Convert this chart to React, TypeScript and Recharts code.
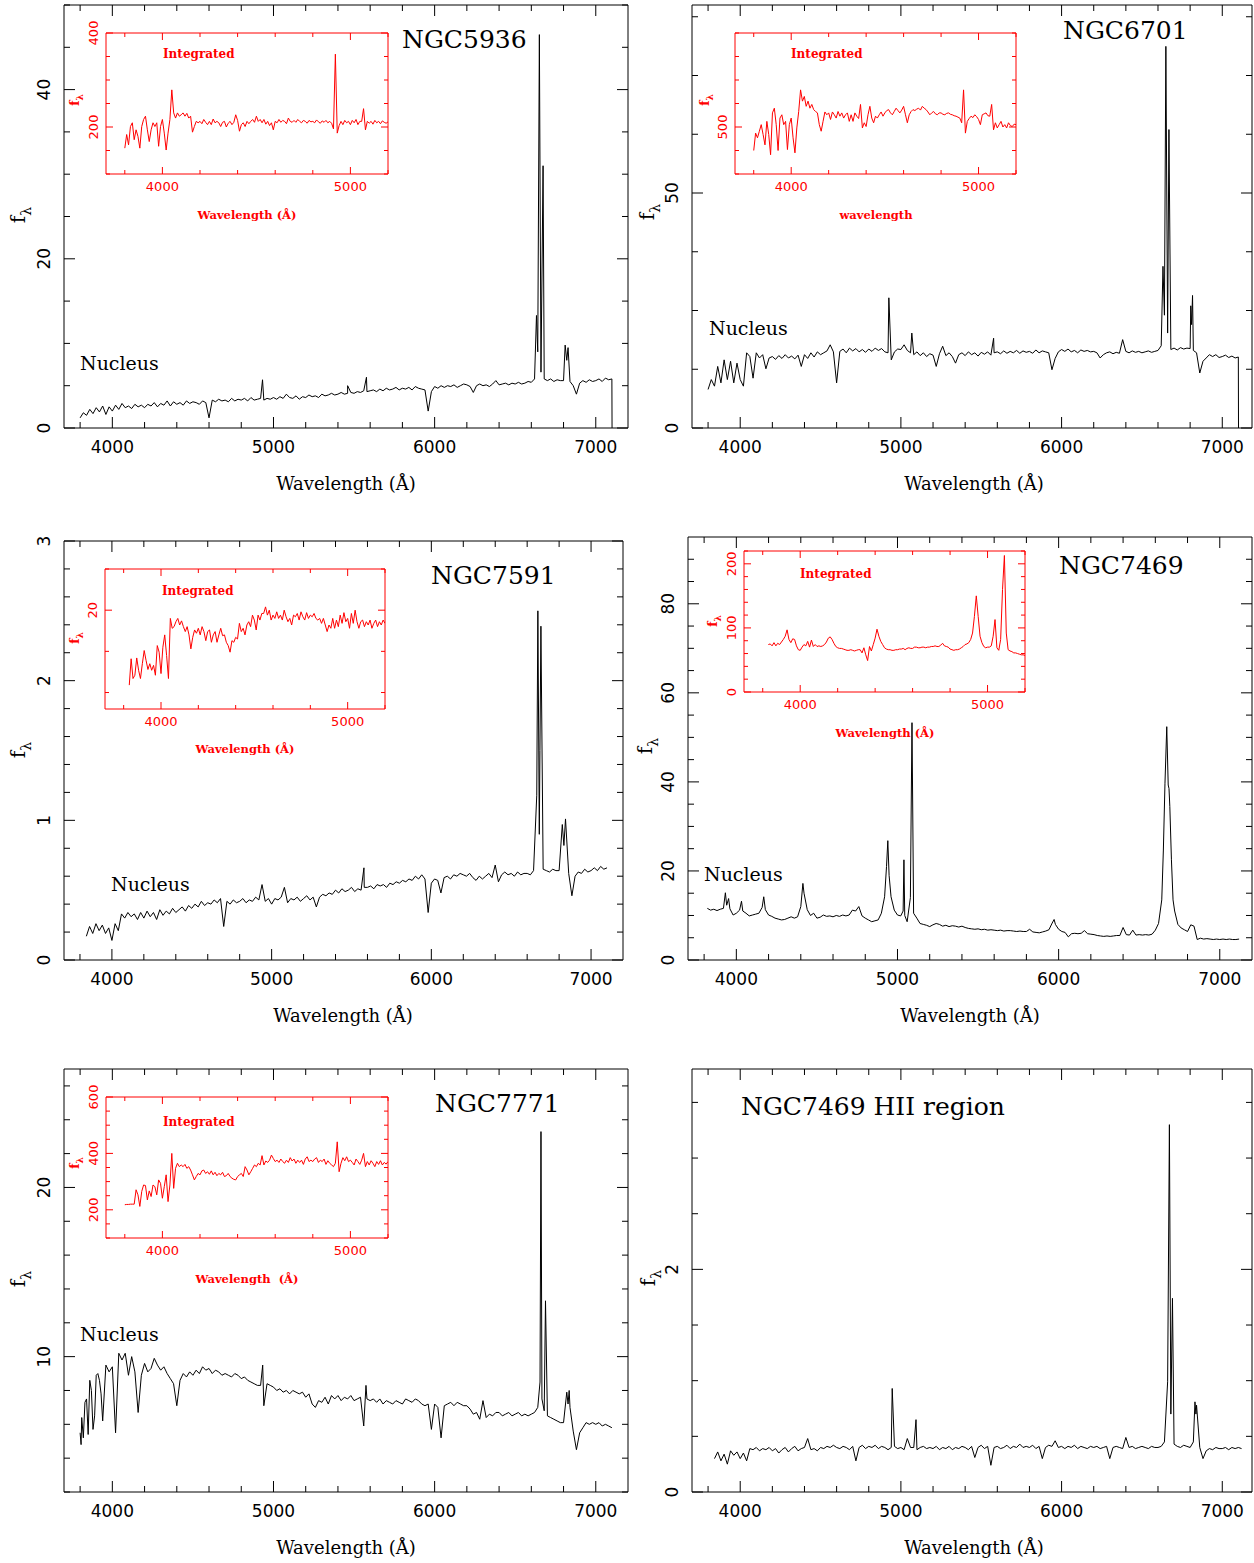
import React from 'react';
import { LineChart, Line, XAxis, YAxis } from 'recharts';

type Pair = [number, number];

// Nuclear spectra are sampled every 20 Å, the integrated ones every 10 Å.
// The *Lines lists hold extra [wavelength, flux] samples for narrow features.
const NUCLEUS_STEP = 20;
const INSET_STEP = 10;

// ---------- NGC5936 ----------
const ngc5936Start = 3800;
const ngc5936Flux = [
  1.2, 1.8, 1.5, 2.2, 1.7, 2.4, 1.9, 2.6, 1.6, 2.5,
  2.0, 2.7, 2.2, 2.9, 2.4, 2.6, 2.3, 2.8, 2.5, 2.7,
  2.4, 2.8, 2.6, 3.0, 2.5, 2.9, 2.7, 3.2, 2.6, 3.1,
  2.8, 3.0, 2.7, 3.2, 2.9, 3.1, 3.0, 2.8, 3.2, 3.0,
  1.2, 3.3, 3.1, 3.4, 3.2, 3.3, 3.1, 3.5, 3.2, 3.4,
  3.3, 3.5, 3.2, 3.6, 3.3, 3.4, 3.5, 3.3, 3.5, 3.4,
  3.6, 3.4, 3.7, 3.5, 4.0, 3.6, 3.5, 3.8, 3.4, 3.7,
  3.6, 3.9, 3.7, 3.8, 3.6, 4.0, 3.8, 3.9, 4.1, 3.9,
  4.0, 4.2, 4.0, 4.1, 4.2, 4.1, 4.3, 4.2, 4.4, 4.3,
  4.4, 4.5, 4.3, 4.6, 4.4, 4.7, 4.5, 4.6, 4.8, 4.5,
  4.7, 4.6, 4.8, 4.5, 4.9, 4.7, 4.6, 4.5, 2.0, 4.3,
  4.9, 4.7, 5.0, 4.8, 5.0, 4.9, 5.1, 4.8, 5.0, 5.2,
  5.1, 4.9, 4.2, 5.0, 5.2, 5.0, 5.1, 4.9, 5.2, 5.6,
  5.1, 5.2, 5.3, 5.1, 5.3, 5.2, 5.4, 5.2, 5.3, 5.5,
  5.4, 5.8, 9.0, 6.6, 5.8, 5.6, 5.8, 5.5, 5.7, 5.6,
  5.6, 8.0, 5.5, 5.0, 4.0, 5.3, 5.6, 5.4, 5.7, 5.5,
  5.6, 5.8, 5.5, 5.9, 5.7, 5.8,
];
const ngc5936Lines: Pair[] = [
  [4932, 5.7], [5460, 5.0], [5577, 6.0], [6632, 13.3], [6650, 46.5],
  [6673, 31.0], [6810, 9.8], [6828, 9.5], [7101, 0],
];
const ngc5936IntStart = 3800;
const ngc5936Integrated = [
  155, 184, 162, 201, 209, 173, 194, 180, 155, 201,
  216, 223, 194, 169, 194, 209, 201, 209, 159, 201,
  216, 187, 151, 187, 216, 279, 230, 219, 230, 223,
  226, 230, 223, 229, 219, 223, 189, 201, 212, 209,
  212, 207, 216, 210, 205, 212, 205, 217, 209, 212,
  209, 201, 210, 212, 200, 208, 212, 205, 210, 226,
  214, 191, 205, 209, 201, 212, 207, 212, 216, 210,
  223, 212, 216, 209, 216, 206, 212, 203, 209, 194,
  212, 209, 216, 210, 214, 212, 207, 219, 212, 210,
  214, 210, 216, 212, 209, 214, 212, 208, 214, 211,
  212, 209, 215, 211, 208, 213, 210, 214, 209, 212,
  208, 196, 355, 187, 203, 212, 205, 214, 209, 212,
  205, 214, 209, 216, 205, 212, 212, 239, 194, 212,
  208, 212, 206, 214, 209, 212, 207, 213, 210, 208,
  211,
];

// ---------- NGC6701 ----------
const ngc6701Start = 3800;
const ngc6701Flux = [
  8.2, 10.3, 8.9, 13.1, 9.6, 14.5, 10.3, 14.2, 9.6, 13.8,
  10.3, 8.9, 16.0, 15.2, 10.6, 16.0, 14.9, 15.6, 12.6, 14.9,
  15.2, 14.6, 15.4, 14.8, 15.6, 14.9, 15.3, 14.7, 15.5, 13.1,
  15.6, 14.8, 16.0, 15.1, 16.2, 15.6, 16.0, 16.4, 17.7, 16.2,
  9.6, 16.3, 16.8, 16.0, 17.0, 16.4, 16.9, 16.2, 16.7, 16.1,
  16.8, 16.3, 17.0, 16.5, 16.9, 16.2, 16.0, 14.5, 16.2, 16.8,
  16.7, 17.7, 16.5, 16.0, 15.6, 16.2, 15.4, 16.0, 15.2, 15.8,
  15.5, 13.1, 15.8, 17.4, 15.4, 16.0, 15.2, 13.8, 15.6, 16.0,
  15.4, 16.2, 15.6, 16.0, 15.3, 16.1, 15.7, 16.2, 15.5, 16.0,
  16.2, 15.8, 16.4, 15.9, 16.3, 16.0, 16.5, 15.9, 16.4, 16.1,
  16.3, 15.9, 16.6, 16.0, 16.4, 16.2, 16.0, 12.4, 14.8, 16.2,
  16.7, 16.3, 16.8, 16.2, 16.5, 16.0, 16.6, 16.3, 16.5, 16.2,
  16.3, 16.0, 14.9, 15.6, 16.0, 16.2, 15.8, 16.1, 15.9, 18.8,
  16.3, 16.0, 16.4, 16.1, 16.3, 16.0, 16.2, 16.4, 16.1, 16.3,
  16.5, 17.5, 24.0, 20.2, 16.7, 17.0, 16.6, 17.1, 16.8, 17.0,
  16.9, 16.5, 16.0, 11.7, 14.2, 14.9, 15.6, 15.2, 15.6, 15.0,
  15.2, 15.5, 15.0, 15.3, 14.9, 15.1,
];
const ngc6701Lines: Pair[] = [
  [4925, 27.7], [5068, 20.2], [5577, 19.1], [6631, 34.4], [6649, 81.2],
  [6668, 63.5], [6804, 26.0], [6809, 22.0], [6815, 28.2], [7101, 0],
];
const ngc6701IntStart = 3800;
const ngc6701Integrated = [
  450, 487, 477, 491, 505, 484, 462, 512, 484, 441,
  530, 540, 505, 450, 519, 526, 505, 512, 452, 505,
  519, 477, 445, 498, 533, 579, 555, 565, 544, 555,
  540, 548, 537, 533, 530, 505, 491, 512, 532, 526,
  530, 516, 532, 526, 519, 533, 523, 530, 519, 526,
  530, 512, 526, 512, 530, 523, 518, 548, 498, 509,
  501, 526, 544, 519, 509, 523, 519, 526, 532, 523,
  530, 535, 537, 530, 526, 533, 540, 535, 530, 536,
  544, 526, 509, 526, 533, 537, 535, 538, 540, 536,
  544, 540, 537, 532, 526, 530, 533, 528, 526, 530,
  530, 527, 526, 529, 530, 527, 526, 524, 523, 521,
  519, 509, 579, 487, 512, 518, 523, 520, 526, 522,
  516, 505, 526, 528, 530, 524, 523, 548, 494, 509,
  498, 505, 512, 500, 505, 498, 509, 503, 501, 506,
  505,
];

// ---------- NGC7591 ----------
const ngc7591Start = 3840;
const ngc7591Flux = [
  0.17, 0.24, 0.19, 0.26, 0.21, 0.25, 0.19, 0.23,
  0.14, 0.26, 0.21, 0.33, 0.30, 0.34, 0.31, 0.33, 0.29, 0.34,
  0.30, 0.35, 0.31, 0.34, 0.29, 0.36, 0.32, 0.35, 0.33, 0.37,
  0.34, 0.36, 0.38, 0.35, 0.39, 0.37, 0.40, 0.38, 0.42, 0.39,
  0.41, 0.40, 0.43, 0.41, 0.44, 0.24, 0.42, 0.40, 0.43, 0.41,
  0.42, 0.44, 0.41, 0.43, 0.42, 0.45, 0.43, 0.54, 0.42, 0.44,
  0.40, 0.44, 0.43, 0.45, 0.52, 0.41, 0.44, 0.43, 0.45, 0.42,
  0.44, 0.46, 0.43, 0.45, 0.38, 0.45, 0.47, 0.46, 0.48, 0.47,
  0.50, 0.48, 0.51, 0.49, 0.50, 0.52, 0.49, 0.51, 0.50, 0.52,
  0.52, 0.53, 0.51, 0.54, 0.53, 0.54, 0.52, 0.55, 0.54, 0.56,
  0.55, 0.57, 0.56, 0.58, 0.57, 0.60, 0.58, 0.61, 0.58, 0.34,
  0.55, 0.58, 0.57, 0.48, 0.59, 0.60, 0.58, 0.61, 0.60, 0.62,
  0.61, 0.60, 0.62, 0.59, 0.57, 0.60, 0.58, 0.60, 0.62, 0.59,
  0.68, 0.56, 0.61, 0.63, 0.61, 0.62, 0.60, 0.63, 0.61, 0.62,
  0.62, 0.61, 0.64, 1.18, 1.50, 0.65, 0.64, 0.63, 0.65, 0.64,
  0.64, 0.97, 1.01, 0.62, 0.46, 0.60, 0.63, 0.62, 0.65, 0.63,
  0.64, 0.66, 0.64, 0.67, 0.65, 0.66,
];
const ngc7591Lines: Pair[] = [
  [5578, 0.66], [6667, 2.5], [6676, 0.9], [6686, 2.39], [6830, 0.82],
];
const ngc7591IntStart = 3830;
const ngc7591Integrated = [
  10.9, 14.1, 11.7, 12.1, 14.2, 12.7, 11.7,
  13.5, 15.1, 13.9, 12.8, 13.5, 12.7, 13.3, 12.1, 15.7, 14.9,
  12.3, 15.5, 17.0, 14.5, 11.7, 19.0, 17.8, 18.0, 18.6, 19.0,
  18.2, 18.7, 18.0, 17.4, 18.0, 17.0, 15.3, 16.7, 17.6, 17.2,
  17.8, 17.0, 18.0, 17.4, 16.3, 17.4, 17.6, 16.1, 17.0, 17.4,
  16.1, 17.0, 17.8, 16.9, 17.0, 16.1, 15.7, 14.9, 16.3, 16.1,
  16.7, 16.5, 18.4, 17.4, 17.8, 17.0, 18.2, 18.6, 18.0, 19.4,
  18.8, 17.6, 19.4, 18.8, 19.6, 19.6, 20.4, 19.4, 20.0, 18.8,
  19.4, 19.0, 19.8, 19.0, 19.4, 18.8, 20.0, 19.2, 18.6, 19.0,
  18.2, 19.4, 19.2, 19.6, 18.8, 19.8, 19.2, 18.8, 19.7, 19.0,
  19.4, 19.2, 19.6, 19.0, 18.8, 19.0, 18.4, 19.0, 18.2, 17.4,
  18.2, 17.8, 19.0, 17.8, 18.8, 18.0, 19.4, 18.4, 19.7, 18.6,
  19.0, 17.8, 19.6, 18.4, 20.0, 18.6, 17.8, 18.6, 18.8, 18.0,
  18.6, 18.2, 18.8, 17.8, 18.4, 18.8, 18.0, 18.6, 18.2, 18.8,
  18.4,
];

// ---------- NGC7469 ----------
const ngc7469Start = 3820;
const ngc7469Flux = [
  11.6, 11.2, 11.4, 11.1, 11.4, 11.6, 12.3, 11.5, 10.1,
  10.5, 11.2, 11.0, 10.5, 9.9, 10.1, 10.3, 10.5, 11.8, 11.3,
  10.1, 9.8, 9.4, 9.2, 9.0, 9.1, 9.4, 9.7, 9.4, 9.7,
  12.0, 15.0, 11.3, 10.0, 10.5, 9.4, 9.6, 10.1, 9.8, 9.9,
  9.7, 10.0, 9.8, 10.1, 9.9, 10.1, 11.2, 11.0, 12.0, 9.9,
  9.4, 9.0, 8.6, 8.8, 9.0, 10.5, 14.2, 26.8, 14.2, 11.2,
  10.1, 9.9, 22.5, 8.6, 14.0, 10.5, 9.4, 8.2, 8.0, 7.8,
  7.5, 7.9, 8.2, 8.0, 7.6, 7.8, 7.5, 7.7, 7.6, 7.4,
  7.6, 7.3, 7.1, 7.0, 6.9, 7.0, 6.8, 6.9, 6.7, 6.8,
  6.7, 6.6, 6.7, 6.5, 6.6, 6.6, 6.5, 6.4, 6.5, 6.4,
  6.4, 6.9, 6.3, 6.2, 6.1, 6.3, 6.5, 6.8, 8.3, 8.0,
  6.9, 6.4, 6.2, 5.2, 5.9, 6.0, 5.9, 6.0, 6.6, 5.9,
  5.8, 5.7, 5.5, 5.4, 5.3, 5.4, 5.3, 5.4, 5.5, 5.5,
  7.3, 5.7, 5.6, 6.7, 5.6, 5.7, 5.6, 5.7, 5.6, 5.8,
  6.7, 8.2, 13.5, 39.7, 39.3, 22.5, 11.0, 8.0, 7.2, 6.8,
  6.4, 7.9, 7.6, 4.6, 4.9, 4.7, 4.8, 4.7, 4.6, 4.7,
  4.6, 4.7, 4.6, 4.7, 4.6, 4.6, 4.7,
];
const ngc7469Lines: Pair[] = [
  [3932, 15.1], [3952, 13.8], [4032, 13.2], [4170, 14.2], [4413, 17.2],
  [4932, 21.0], [4948, 19.0], [5035, 11.0], [5045, 10.0], [5090, 53.3],
  [5972, 9.1], [6650, 24.7], [6671, 52.4], [6685, 38.5], [6690, 34.5],
  [6710, 13.5],
];
const ngc7469IntStart = 3830;
const ngc7469Integrated = [
  74, 75, 72, 77, 72, 76, 74,
  78, 82, 87, 97, 82, 77, 83, 82, 72, 66,
  65, 70, 74, 72, 79, 70, 81, 71, 74, 71,
  72, 71, 72, 74, 78, 84, 86, 82, 76, 71,
  69, 68, 68, 67, 66, 65, 65, 66, 65, 64,
  65, 66, 66, 61, 69, 58, 49, 71, 64, 74,
  84, 98, 87, 79, 74, 69, 67, 66, 66, 65,
  65, 66, 66, 67, 67, 68, 66, 68, 69, 68,
  68, 70, 70, 69, 69, 70, 70, 69, 70, 70,
  71, 71, 72, 71, 71, 73, 76, 72, 71, 70,
  67, 66, 65, 66, 66, 67, 69, 71, 74, 75,
  77, 82, 92, 118, 150, 118, 87, 77, 71, 69,
  70, 70, 72, 87, 113, 69, 65, 82, 160, 213,
  92, 66, 64, 63, 61, 61, 60, 59, 58, 58,
  57,
];

// ---------- NGC7771 ----------
const ngc7771Start = 3800;
const ngc7771Flux = [
  5.5, 5.2, 7.5, 8.6, 5.7, 8.9, 8.6, 6.2, 9.5, 9.1,
  9.4, 5.5, 10.2, 9.8, 10.2, 8.9, 10.0, 9.1, 6.7, 8.9,
  9.6, 9.1, 9.3, 9.9, 9.5, 9.2, 9.4, 9.0, 8.7, 8.4,
  7.1, 8.6, 9.0, 8.8, 9.1, 8.9, 9.2, 9.0, 9.4, 9.2,
  9.3, 9.0, 9.2, 9.1, 8.9, 9.0, 8.9, 8.8, 9.0, 8.9,
  8.7, 8.8, 8.6, 8.5, 8.4, 8.3, 8.3, 7.1, 8.4, 8.3,
  8.2, 8.0, 8.1, 7.9, 8.0, 7.8, 8.0, 7.9, 7.8, 7.9,
  7.6, 7.8, 7.2, 7.0, 7.4, 7.3, 7.6, 7.2, 7.7, 7.5,
  7.7, 7.4, 7.6, 7.5, 7.7, 7.4, 7.5, 7.6, 5.9, 7.5,
  7.4, 7.5, 7.3, 7.5, 7.2, 7.4, 7.3, 7.2, 7.4, 7.3,
  7.2, 7.5, 7.4, 7.3, 7.5, 7.4, 7.2, 7.1, 7.2, 5.7,
  7.2, 7.0, 5.2, 7.1, 7.2, 7.3, 7.1, 7.3, 7.2, 7.1,
  7.1, 6.9, 6.6, 6.7, 6.3, 7.4, 6.4, 6.6, 6.5, 6.7,
  6.7, 6.5, 6.6, 6.7, 6.5, 6.6, 6.7, 6.5, 6.6, 6.5,
  6.6, 6.7, 7.0, 23.3, 6.8, 6.5, 6.4, 6.3, 6.2, 6.1,
  6.1, 7.9, 7.0, 5.6, 4.5, 5.5, 5.8, 6.1, 6.0, 6.1,
  6.0, 6.1, 5.9, 6.0, 5.9, 5.8,
];
const ngc7771Lines: Pair[] = [
  [3806, 4.8], [3810, 6.4], [3830, 7.3], [3850, 5.4], [3870, 8.0],
  [3890, 6.5], [3910, 9.0], [3930, 7.8], [4933, 9.5], [5574, 8.3],
  [6654, 8.5], [6666, 7.5], [6688, 13.3], [6828, 7.2], [6835, 8.0],
];
const ngc7771IntStart = 3800;
const ngc7771Integrated = [
  218, 219, 219, 220, 220, 220, 271, 253, 212, 265,
  288, 286, 235, 267, 247, 288, 282, 253, 306, 294,
  241, 282, 324, 229, 288, 400, 276, 347, 365, 353,
  359, 353, 361, 347, 353, 341, 324, 306, 318, 329,
  324, 338, 341, 329, 335, 326, 338, 324, 333, 321,
  329, 324, 333, 318, 321, 329, 318, 312, 308, 306,
  318, 324, 329, 318, 353, 341, 324, 335, 347, 359,
  353, 365, 359, 392, 359, 373, 368, 376, 394, 382,
  371, 376, 368, 380, 371, 365, 376, 368, 385, 373,
  380, 365, 376, 368, 376, 361, 380, 388, 371, 376,
  371, 380, 385, 368, 376, 371, 380, 361, 374, 365,
  359, 353, 365, 441, 335, 365, 385, 374, 388, 371,
  376, 368, 359, 380, 371, 361, 376, 400, 353, 371,
  359, 374, 365, 353, 371, 361, 374, 359, 368, 362,
  371,
];

// ---------- NGC7469 HII region ----------
const hiiStart = 3840;
const hiiFlux = [
  0.30, 0.36, 0.28, 0.34, 0.25, 0.37, 0.33, 0.36,
  0.30, 0.35, 0.28, 0.39, 0.38, 0.40, 0.37, 0.39, 0.38, 0.40,
  0.37, 0.39, 0.35, 0.38, 0.40, 0.36, 0.39, 0.41, 0.37, 0.39,
  0.40, 0.48, 0.38, 0.39, 0.37, 0.40, 0.39, 0.41, 0.40, 0.42,
  0.40, 0.39, 0.41, 0.40, 0.38, 0.41, 0.28, 0.40, 0.42, 0.39,
  0.41, 0.40, 0.42, 0.39, 0.41, 0.40, 0.38, 0.40, 0.41, 0.39,
  0.40, 0.38, 0.48, 0.40, 0.40, 0.38, 0.40, 0.41, 0.39, 0.40,
  0.39, 0.41, 0.38, 0.40, 0.39, 0.41, 0.38, 0.40, 0.39, 0.41,
  0.40, 0.38, 0.41, 0.31, 0.40, 0.42, 0.39, 0.41, 0.24, 0.40,
  0.41, 0.39, 0.40, 0.42, 0.39, 0.41, 0.40, 0.43, 0.40, 0.41,
  0.40, 0.42, 0.39, 0.41, 0.30, 0.40, 0.42, 0.41, 0.46, 0.40,
  0.41, 0.39, 0.41, 0.40, 0.42, 0.39, 0.41, 0.40, 0.39, 0.41,
  0.40, 0.41, 0.39, 0.40, 0.41, 0.30, 0.40, 0.41, 0.40, 0.39,
  0.49, 0.40, 0.41, 0.39, 0.40, 0.41, 0.40, 0.39, 0.41, 0.40,
  0.40, 0.41, 0.45, 0.99, 0.70, 0.43, 0.41, 0.40, 0.42, 0.41,
  0.40, 0.45, 0.78, 0.40, 0.30, 0.37, 0.39, 0.38, 0.40, 0.39,
  0.39, 0.40, 0.38, 0.40, 0.39, 0.40, 0.39,
];
const hiiLines: Pair[] = [
  [4946, 0.93], [5094, 0.65], [6671, 3.3], [6690, 1.74], [6830, 0.81], [6836, 0.7],
];

// ---------- axis labels ----------
const waveLabels = [4000, 5000, 6000, 7000];
const insetWaveLabels = [4000, 5000];
const ngc5936YLabels = [0, 20, 40];
const ngc6701YLabels = [0, 50];
const ngc7591YLabels = [0, 1, 2, 3];
const ngc7469YLabels = [0, 20, 40, 60, 80];
const ngc7771YLabels = [10, 20];
const hiiYLabels = [0, 2];
const ngc5936IntYLabels = [200, 400];
const ngc6701IntYLabels = [500];
const ngc7591IntYLabels = [20];
const ngc7469IntYLabels = [0, 100, 200];
const ngc7771IntYLabels = [200, 400, 600];

const TICK_FONT = '"DejaVu Sans", sans-serif';
const TEXT_FONT = '"DejaVu Serif", serif';
const RED = '#ff0000';

const steps = (from: number, to: number, by: number) =>
  Array.from({ length: Math.round((to - from) / by) + 1 }, (_, i) => +(from + i * by).toFixed(3));

const toPoints = (start: number, step: number, flux: number[], extra: Pair[] = []) => {
  const pts = flux.map((f, i) => ({ w: start + i * step, f }));
  extra.forEach(([w, f]) => pts.push({ w, f }));
  return pts.sort((a, b) => a.w - b.w);
};

type Side = 'bottom' | 'top' | 'left' | 'right';
interface TickStyle {
  color: string;
  major: number;
  minor: number;
  font: number;
  xGap: number;
  yGap: number;
}

const MAIN_TICKS: TickStyle = { color: '#000', major: 11, minor: 6, font: 17, xGap: 25, yGap: 20 };
const INSET_TICKS: TickStyle = { color: RED, major: 7, minor: 4, font: 13, xGap: 17, yGap: 13 };

const near = (list: number[], v: number) => list.some((m) => Math.abs(m - v) < 1e-6);

// Ticks point into the frame on all four sides; only bottom/left carry numbers.
const tickRenderer = (side: Side, labels: number[], st: TickStyle) => (props: any) => {
  const { x, y, payload } = props;
  const v = payload.value as number;
  const major = near(labels, v);
  const len = major ? st.major : st.minor;
  const dx = side === 'left' ? len : side === 'right' ? -len : 0;
  const dy = side === 'bottom' ? -len : side === 'top' ? len : 0;
  let label: React.ReactNode = null;
  if (major && side === 'bottom') {
    label = (
      <text x={x} y={y + st.xGap} textAnchor="middle" fill={st.color} fontSize={st.font} fontFamily={TICK_FONT}>
        {v}
      </text>
    );
  } else if (major && side === 'left') {
    label = (
      <text
        transform={`translate(${x - st.yGap},${y}) rotate(-90)`}
        textAnchor="middle"
        dominantBaseline="central"
        fill={st.color}
        fontSize={st.font}
        fontFamily={TICK_FONT}
      >
        {v}
      </text>
    );
  }
  return (
    <g>
      <line x1={x} y1={y} x2={x + dx} y2={y + dy} stroke={st.color} strokeWidth={1} />
      {label}
    </g>
  );
};

interface Box { x: number; y: number; w: number; h: number }

interface SpectrumProps {
  box: Box;
  data: { w: number; f: number }[];
  xDomain: [number, number];
  xTicks: number[];
  xLabels: number[];
  yDomain: [number, number];
  yTicks: number[];
  yLabels: number[];
  st: TickStyle;
}

// room around the frame for labels; each axis is 1px thick, taken out of the margin
const PAD = 70;
const AX = 1;

const Spectrum: React.FC<SpectrumProps> = ({ box, data, xDomain, xTicks, xLabels, yDomain, yTicks, yLabels, st }) => {
  const axisLine = { stroke: st.color, strokeWidth: 1 };
  const common = { type: 'number' as const, allowDataOverflow: true, interval: 0 as const, tickSize: 0, tickMargin: 0, tickLine: false, axisLine };
  const m = PAD - AX;
  return (
    <div style={{ position: 'absolute', left: box.x - PAD, top: box.y - PAD }}>
      <LineChart width={box.w + 2 * PAD} height={box.h + 2 * PAD} data={data} margin={{ top: m, right: m, bottom: m, left: m }}>
        <XAxis xAxisId="b" orientation="bottom" dataKey="w" domain={xDomain} ticks={xTicks} height={AX} tick={tickRenderer('bottom', xLabels, st)} {...common} />
        <XAxis xAxisId="t" orientation="top" dataKey="w" domain={xDomain} ticks={xTicks} height={AX} tick={tickRenderer('top', xLabels, st)} {...common} />
        <YAxis yAxisId="l" orientation="left" domain={yDomain} ticks={yTicks} width={AX} tick={tickRenderer('left', yLabels, st)} {...common} />
        <YAxis yAxisId="r" orientation="right" domain={yDomain} ticks={yTicks} width={AX} tick={tickRenderer('right', yLabels, st)} {...common} />
        <Line xAxisId="b" yAxisId="l" dataKey="f" type="linear" dot={false} stroke={st.color} strokeWidth={1} isAnimationActive={false} />
      </LineChart>
    </div>
  );
};

const FLambda: React.FC<{ at: [number, number]; size: number; color: string; bold?: boolean }> = ({ at, size, color, bold }) => (
  <text
    transform={`translate(${at[0]},${at[1]}) rotate(-90)`}
    textAnchor="middle"
    fill={color}
    fontSize={size}
    fontWeight={bold ? 'bold' : 'normal'}
    fontFamily={TEXT_FONT}
  >
    f
    <tspan fontSize={size * 0.7} dy={size * 0.28}>λ</tspan>
  </text>
);

interface InsetConf {
  box: Box;
  data: { w: number; f: number }[];
  yDomain: [number, number];
  yTicks: number[];
  yLabels: number[];
  tagAt: [number, number];
  xTitle: string;
  xTitleAt: [number, number];
  fAt: [number, number];
}

interface PanelConf {
  box: Box;
  data: { w: number; f: number }[];
  xMax: number;
  yDomain: [number, number];
  yTicks: number[];
  yLabels: number[];
  name: string;
  nameAt: [number, number];
  nucleusAt?: [number, number];
  fAt: [number, number];
  xTitleAt: [number, number];
  inset?: InsetConf;
}

const mainWaveTicks = steps(3800, 7000, 200);
const insetWaveTicks = steps(3800, 5200, 200);

const panels: PanelConf[] = [
  {
    box: { x: 64, y: 5, w: 564, h: 423 }, xMax: 7200,
    data: toPoints(ngc5936Start, NUCLEUS_STEP, ngc5936Flux, ngc5936Lines),
    yDomain: [0, 50], yTicks: steps(0, 50, 5), yLabels: ngc5936YLabels,
    name: 'NGC5936', nameAt: [402, 48], nucleusAt: [80, 370], fAt: [25, 215], xTitleAt: [346, 490],
    inset: {
      box: { x: 106, y: 33, w: 282, h: 141 },
      data: toPoints(ngc5936IntStart, INSET_STEP, ngc5936Integrated),
      yDomain: [100, 400], yTicks: steps(100, 400, 50), yLabels: ngc5936IntYLabels,
      tagAt: [163, 58], xTitle: 'Wavelength (Å)', xTitleAt: [247, 219], fAt: [79, 100],
    },
  },
  {
    box: { x: 692, y: 5, w: 560, h: 423 }, xMax: 7185,
    data: toPoints(ngc6701Start, NUCLEUS_STEP, ngc6701Flux, ngc6701Lines),
    yDomain: [0, 90], yTicks: steps(0, 87.5, 12.5), yLabels: ngc6701YLabels,
    name: 'NGC6701', nameAt: [1063, 39], nucleusAt: [709, 335], fAt: [654, 212], xTitleAt: [974, 490],
    inset: {
      box: { x: 735, y: 33, w: 281, h: 141 },
      data: toPoints(ngc6701IntStart, INSET_STEP, ngc6701Integrated),
      yDomain: [400, 700], yTicks: steps(400, 700, 50), yLabels: ngc6701IntYLabels,
      tagAt: [791, 58], xTitle: 'wavelength', xTitleAt: [876, 219], fAt: [709, 100],
    },
  },
  {
    box: { x: 64, y: 541, w: 559, h: 419 }, xMax: 7200,
    data: toPoints(ngc7591Start, NUCLEUS_STEP, ngc7591Flux, ngc7591Lines),
    yDomain: [0, 3], yTicks: steps(0, 3, 0.2), yLabels: ngc7591YLabels,
    name: 'NGC7591', nameAt: [431, 584], nucleusAt: [111, 891], fAt: [25, 750], xTitleAt: [343, 1022],
    inset: {
      box: { x: 105, y: 569, w: 280, h: 140 },
      data: toPoints(ngc7591IntStart, INSET_STEP, ngc7591Integrated),
      yDomain: [8, 25], yTicks: steps(10, 25, 5), yLabels: ngc7591IntYLabels,
      tagAt: [162, 595], xTitle: 'Wavelength (Å)', xTitleAt: [245, 753], fAt: [79, 638],
    },
  },
  {
    box: { x: 688, y: 537, w: 564, h: 423 }, xMax: 7200,
    data: toPoints(ngc7469Start, NUCLEUS_STEP, ngc7469Flux, ngc7469Lines),
    yDomain: [0, 95], yTicks: steps(0, 90, 5), yLabels: ngc7469YLabels,
    name: 'NGC7469', nameAt: [1059, 574], nucleusAt: [704, 881], fAt: [652, 746], xTitleAt: [970, 1022],
    inset: {
      box: { x: 744, y: 551, w: 281, h: 141 },
      data: toPoints(ngc7469IntStart, INSET_STEP, ngc7469Integrated),
      yDomain: [0, 220], yTicks: steps(0, 220, 20), yLabels: ngc7469IntYLabels,
      tagAt: [800, 578], xTitle: 'Wavelength (Å)', xTitleAt: [885, 737], fAt: [717, 621],
    },
  },
  {
    box: { x: 64, y: 1069, w: 564, h: 423 }, xMax: 7200,
    data: toPoints(ngc7771Start, NUCLEUS_STEP, ngc7771Flux, ngc7771Lines),
    yDomain: [2, 27], yTicks: steps(2, 26, 2), yLabels: ngc7771YLabels,
    name: 'NGC7771', nameAt: [435, 1112], nucleusAt: [80, 1341], fAt: [25, 1279], xTitleAt: [346, 1554],
    inset: {
      box: { x: 106, y: 1097, w: 282, h: 141 },
      data: toPoints(ngc7771IntStart, INSET_STEP, ngc7771Integrated),
      yDomain: [100, 600], yTicks: steps(100, 600, 50), yLabels: ngc7771IntYLabels,
      tagAt: [163, 1126], xTitle: 'Wavelength\u00a0\u00a0(Å)', xTitleAt: [247, 1283], fAt: [79, 1163],
    },
  },
  {
    box: { x: 692, y: 1069, w: 560, h: 423 }, xMax: 7185,
    data: toPoints(hiiStart, NUCLEUS_STEP, hiiFlux, hiiLines),
    yDomain: [0, 3.8], yTicks: steps(0, 3.5, 0.5), yLabels: hiiYLabels,
    name: 'NGC7469 HII region', nameAt: [741, 1115], fAt: [655, 1278], xTitleAt: [974, 1554],
  },
];

const App: React.FC = () => (
  <div style={{ position: 'absolute', left: 0, top: 0, width: 1254, height: 1563, background: '#fff', overflow: 'hidden' }}>
    {panels.map((p) => (
      <React.Fragment key={p.name}>
        <Spectrum
          box={p.box} data={p.data} xDomain={[3700, p.xMax]} xTicks={mainWaveTicks} xLabels={waveLabels}
          yDomain={p.yDomain} yTicks={p.yTicks} yLabels={p.yLabels} st={MAIN_TICKS}
        />
        {p.inset && (
          <Spectrum
            box={p.inset.box} data={p.inset.data} xDomain={[3700, 5200]} xTicks={insetWaveTicks} xLabels={insetWaveLabels}
            yDomain={p.inset.yDomain} yTicks={p.inset.yTicks} yLabels={p.inset.yLabels} st={INSET_TICKS}
          />
        )}
      </React.Fragment>
    ))}
    <svg width={1254} height={1563} style={{ position: 'absolute', left: 0, top: 0, pointerEvents: 'none' }}>
      {panels.map((p) => (
        <g key={p.name}>
          <text x={p.nameAt[0]} y={p.nameAt[1]} fontSize={25} fontFamily={TEXT_FONT} fill="#000">{p.name}</text>
          {p.nucleusAt && (
            <text x={p.nucleusAt[0]} y={p.nucleusAt[1]} fontSize={19} fontFamily={TEXT_FONT} fill="#000">Nucleus</text>
          )}
          <text x={p.xTitleAt[0]} y={p.xTitleAt[1]} textAnchor="middle" fontSize={18} fontFamily={TEXT_FONT} fill="#000">
            Wavelength (Å)
          </text>
          <FLambda at={p.fAt} size={20} color="#000" />
          {p.inset && (
            <g>
              <text x={p.inset.tagAt[0]} y={p.inset.tagAt[1]} fontSize={12} fontWeight="bold" fontFamily={TEXT_FONT} fill={RED}>
                Integrated
              </text>
              <text x={p.inset.xTitleAt[0]} y={p.inset.xTitleAt[1]} textAnchor="middle" fontSize={11.5} fontWeight="bold" fontFamily={TEXT_FONT} fill={RED}>
                {p.inset.xTitle}
              </text>
              <FLambda at={p.inset.fAt} size={13} color={RED} bold />
            </g>
          )}
        </g>
      ))}
    </svg>
  </div>
);

export default App;
